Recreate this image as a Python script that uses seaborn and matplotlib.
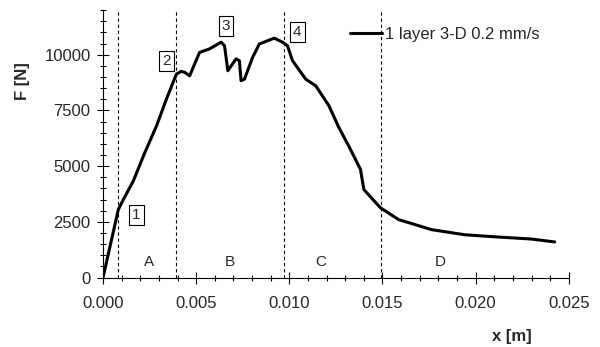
import numpy as np
import pandas as pd
import matplotlib
matplotlib.use('Agg')
import matplotlib.pyplot as plt
import seaborn as sns
from matplotlib.ticker import MultipleLocator, FormatStrFormatter

# displacement [m] and force [N]
x_m = [0.0, 0.00082, 0.00109, 0.00162, 0.00224, 0.00287, 0.0034, 0.00394,
       0.0042, 0.0044, 0.00465, 0.00518, 0.00572, 0.00634, 0.00652, 0.0067,
       0.00714, 0.00732, 0.00741, 0.00759, 0.00803, 0.00839, 0.00919, 0.00963,
       0.0099, 0.01017, 0.01088, 0.01142, 0.01213, 0.01266, 0.01319, 0.01382,
       0.014, 0.01489, 0.01587, 0.01764, 0.01943, 0.02121, 0.02299, 0.02424]
force = [0, 3050, 3500, 4320, 5600, 6800, 8000, 9130,
         9250, 9200, 9050, 10100, 10260, 10560, 10400, 9280,
         9810, 9730, 8830, 8900, 9880, 10480, 10740, 10560,
         10400, 9730, 8900, 8600, 7700, 6730, 5900, 4850,
         3950, 3130, 2600, 2150, 1920, 1820, 1730, 1600]

stage_bounds = [0.0008, 0.0039, 0.0097, 0.0149]
stage_names = ['A', 'B', 'C', 'D']
stage_x = [0.00247, 0.00679, 0.01168, 0.01809]
point_names = ['1', '2', '3', '4']
point_xy = [(0.0018, 2820), (0.0034, 9730), (0.0066, 11300), (0.01043, 11000)]

df = pd.DataFrame({'x': x_m, 'F': force})

sns.set_style('ticks')
plt.rcParams['font.family'] = ['Liberation Sans', 'DejaVu Sans']
fs = 12

fig = plt.figure(figsize=(6, 3.47), dpi=100)
ax = fig.add_axes([0.1717, 0.2, 0.7763, 0.771])

sns.lineplot(data=df, x='x', y='F', color='black', lw=2.2, ax=ax,
             label='1 layer 3-D 0.2 mm/s')

for xb in stage_bounds:
    ax.axvline(xb, color='black', ls=(0, (3, 2.5)), lw=0.8)
for name, xs in zip(stage_names, stage_x):
    ax.text(xs, 720, name, ha='center', va='center', fontsize=fs - 1)
for name, (px, py) in zip(point_names, point_xy):
    ax.text(px, py, name, ha='center', va='center', fontsize=fs - 1,
            bbox=dict(boxstyle='square,pad=0.2', fc='white', ec='black', lw=0.8))

ax.set_xlim(0, 0.025)
ax.set_ylim(0, 12000)
ax.xaxis.set_major_locator(MultipleLocator(0.005))
ax.xaxis.set_minor_locator(MultipleLocator(0.001))
ax.yaxis.set_major_locator(MultipleLocator(2500))
ax.yaxis.set_minor_locator(MultipleLocator(500))
ax.xaxis.set_major_formatter(FormatStrFormatter('%.3f'))
ax.tick_params(which='major', direction='inout', length=8, width=0.8, labelsize=fs, color='black')
ax.tick_params(axis='x', which='major', pad=9)
ax.tick_params(axis='y', which='major', pad=5)
ax.tick_params(which='minor', direction='inout', length=4, width=0.8, color='black')
sns.despine(ax=ax)
for s in ['left', 'bottom']:
    ax.spines[s].set_color('black')
    ax.spines[s].set_linewidth(0.8)

ax.set_xlabel('')
ax.set_ylabel('')
fig.text(0.853, 0.03, 'x [m]', fontsize=fs, fontweight='bold', ha='center', va='center')
fig.text(0.038, 0.767, 'F [N]', fontsize=fs, fontweight='bold', ha='center', va='center', rotation=90)

ax.legend(loc='center left', bbox_to_anchor=(0.53, 0.909), frameon=False, fontsize=fs,
          handlelength=1.9, handletextpad=0.2, borderpad=0, borderaxespad=0)

fig.savefig('out.png', dpi=100)
